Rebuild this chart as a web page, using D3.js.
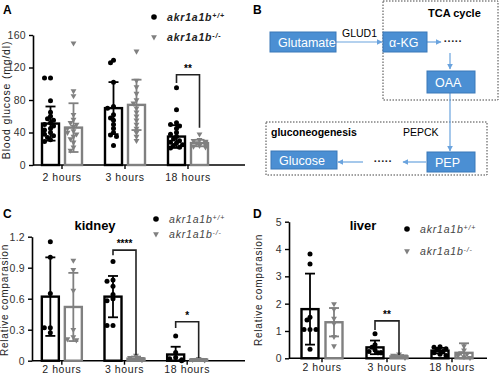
<!DOCTYPE html>
<html>
<head>
<meta charset="utf-8">
<script src="https://cdn.jsdelivr.net/npm/d3@7"></script>
<style>
  body { margin: 0; background: #fff; }
  svg text { font-family: "Liberation Sans", Arial, sans-serif; }
</style>
</head>
<body>
<svg id="fig" width="500" height="375"></svg>
<script>
// categories
var groups = ["2 hours", "3 hours", "18 hours"]

// Panel A - blood glucose (mg/dl)
var glucoseTicks = [0, 40, 80, 120, 160]
var glucoseMeanWT = [51, 70, 35]
var glucoseSdWT = [21, 32, 14]
var glucoseMeanKO = [46, 74, 27]
var glucoseSdKO = [30, 31, 4]
var glucoseWT = [
  [107, 107, 79, 65, 60, 57, 55, 52, 50, 48, 45, 43, 40, 38, 36, 34, 31, 29],
  [129, 126, 102, 72, 70, 62, 58, 55, 50, 45, 40, 37, 35, 24],
  [95, 68, 52, 50, 48, 45, 40, 38, 35, 32, 30, 28, 27, 25, 24, 22, 21]
]
var glucoseKO = [
  [150, 91, 85, 62, 56, 52, 50, 47, 45, 42, 40, 38, 35, 32, 28, 22, 18],
  [140, 104, 96, 88, 80, 76, 70, 65, 60, 55, 50, 45, 40, 35, 30],
  [38, 31, 30, 29, 28, 27, 26, 25, 24, 23, 22]
]

// Panel C - kidney relative comparasion
var kidneyTicks = [0, 0.3, 0.6, 0.9, 1.2]
var kidneyMeanWT = [0.62, 0.62, 0.06]
var kidneySdWT = [0.38, 0.2, 0.075]
var kidneyMeanKO = [0.52, 0.02, 0.01]
var kidneySdKO = [0.33, 0.02, 0.008]
var kidneyWT = [
  [1.15, 1.0, 0.65, 0.32, 0.32, 0.27],
  [0.96, 0.78, 0.77, 0.72, 0.64, 0.6, 0.58, 0.34, 0.34],
  [0.24, 0.08, 0.03, 0.02, 0.01, 0.0]
]
var kidneyKO = [
  [0.97, 0.88, 0.68, 0.3, 0.23, 0.21, 0.2],
  [0.05, 0.03, 0.02, 0.02, 0.01, 0.01],
  [0.02, 0.01, 0.01, 0.005]
]

// Panel D - liver relative comparasion
var liverTicks = [0, 1, 2, 3, 4, 5]
var liverMeanWT = [1.8, 0.4, 0.28]
var liverSdWT = [1.3, 0.25, 0.1]
var liverMeanKO = [1.32, 0.07, 0.2]
var liverSdKO = [0.52, 0.05, 0.35]
var liverWT = [
  [3.82, 3.45, 1.5, 1.4, 1.05, 1.05, 1.05, 0.33],
  [0.9, 0.5, 0.4, 0.3, 0.25, 0.2, 0.2, 0.2],
  [0.42, 0.4, 0.35, 0.3, 0.25, 0.2, 0.15, 0.1]
]
var liverKO = [
  [1.99, 1.8, 1.46, 1.28, 0.79, 0.45],
  [0.15, 0.1, 0.08, 0.05, 0.05, 0.03],
  [0.45, 0.3, 0.2, 0.15, 0.1, 0.05, 0.02]
]

// significance brackets: [group, top, left foot, right foot, label]
var glucoseSig = [[2, 111, 101, 46, "**"]]
var kidneySig = [[1, 1.07, 1.02, 0.055, "****"], [2, 0.377, 0.316, 0.026, "*"]]
var liverSig = [[1, 1.37, 1.04, 0.12, "**"]]

var WT = "#000", KO = "#808080"
var svg = d3.select("#fig")

// simple swarm, kept inside the bar
function swarm(vals, y, r) {
  var placed = []
  return vals.map(function(v) {
    var cy = y(v)
    var tries = [0, -1, 1, -2, 2]
    for (var k = 0; k < tries.length; k++) {
      var cx = tries[k] * 3
      var hit = placed.some(p => Math.hypot(p[0] - cx, p[1] - cy) < r * 1.5)
      if (!hit || k == tries.length - 1) { placed.push([cx, cy]); return [cx, cy] }
    }
  })
}

function drawPanel(o) {
  var g = svg.append("g")
  var x = d3.scaleBand().domain(groups).range(o.xr).padding(0)
  var y = d3.scaleLinear().domain([0, d3.max(o.ticks)]).range(o.yr)
  var bw = 17

  // y axis
  var ya = g.append("g").attr("transform", `translate(${o.ax},0)`)
    .call(d3.axisLeft(y).tickValues(o.ticks).tickSize(4).tickSizeOuter(0).tickFormat(o.fmt))
  ya.select(".domain").attr("stroke-width", 1.6)
  ya.selectAll(".tick line").attr("stroke-width", 1.4)
  ya.selectAll("text").attr("font-size", 10.5).attr("fill", "#333").style("letter-spacing", "0.3px")

  // x axis
  var xa = g.append("g").attr("transform", `translate(0,${o.yr[0]})`)
    .call(d3.axisBottom(x).tickSize(4).tickSizeOuter(0))
  xa.select(".domain").remove()
  xa.selectAll(".tick line").attr("stroke-width", 1.4)
  xa.selectAll("text").attr("font-size", 10.5).attr("fill", "#222")
    .attr("y", o.xlab).attr("dy", "0").style("letter-spacing", "0.6px")
  g.append("line").attr("x1", o.ax).attr("x2", o.axEnd)
    .attr("y1", o.yr[0]).attr("y2", o.yr[0]).attr("stroke", "#000").attr("stroke-width", 1.6)

  // y label
  g.append("text").attr("transform", `translate(${o.labX},${o.labY}) rotate(-90)`)
    .attr("text-anchor", "middle").attr("font-size", o.labSize).attr("fill", "#222")
    .style("letter-spacing", "0.8px").text(o.label)

  var series = [
    { mean: o.meanWT, sd: o.sdWT, pts: o.wt, col: WT, off: -o.off, shape: "dot" },
    { mean: o.meanKO, sd: o.sdKO, pts: o.ko, col: KO, off: o.off, shape: "tri" }
  ]
  series.forEach(function(s) {
    groups.forEach(function(gr, i) {
      var cx = x(gr) + x.bandwidth() / 2 + s.off
      // bar
      g.append("rect").attr("x", cx - bw / 2).attr("width", bw)
        .attr("y", y(s.mean[i])).attr("height", y(0) - y(s.mean[i]))
        .attr("fill", "none").attr("stroke", s.col).attr("stroke-width", 2.4)
      // error bar
      var hi = y(s.mean[i] + s.sd[i]), lo = y(Math.max(0, s.mean[i] - s.sd[i]))
      g.append("line").attr("x1", cx).attr("x2", cx).attr("y1", hi).attr("y2", lo)
        .attr("stroke", s.col).attr("stroke-width", 1.8)
      ;[hi, lo].forEach(function(yy) {
        g.append("line").attr("x1", cx - 5).attr("x2", cx + 5).attr("y1", yy).attr("y2", yy)
          .attr("stroke", s.col).attr("stroke-width", 1.8)
      })
      // points
      var pos = swarm(s.pts[i], y, 2.5)
      pos.forEach(function(p) {
        if (s.shape == "dot") {
          g.append("circle").attr("cx", cx + p[0]).attr("cy", p[1]).attr("r", 2.5).attr("fill", s.col)
        } else {
          g.append("path").attr("transform", `translate(${cx + p[0]},${p[1]}) rotate(180)`)
            .attr("d", d3.symbol(d3.symbolTriangle, 15)()).attr("fill", s.col)
        }
      })
    })
  })

  // significance brackets
  o.sig.forEach(function(b) {
    var cx = x(groups[b[0]]) + x.bandwidth() / 2
    var x1 = cx - o.off, x2 = cx + o.off
    g.append("path")
      .attr("d", `M${x1},${y(b[2])}V${y(b[1])}H${x2}V${y(b[3])}`)
      .attr("fill", "none").attr("stroke", "#222").attr("stroke-width", 1.6)
    g.append("text").attr("x", cx).attr("y", y(b[1]) - 3).attr("text-anchor", "middle")
      .attr("font-size", 10).attr("font-weight", "bold").text(b[4])
  })

  // title
  if (o.title) {
    g.append("text").attr("x", o.title[1]).attr("y", o.title[2]).attr("text-anchor", "middle")
      .attr("font-size", 13).attr("font-weight", "bold").text(o.title[0])
  }

  // legend
  var lg = g.append("g").attr("transform", `translate(${o.leg[0]},${o.leg[1]})`)
  lg.append("circle").attr("cx", 0).attr("cy", 0).attr("r", 2.8).attr("fill", WT)
  lg.append("path").attr("transform", `translate(0,${o.leg[2]}) rotate(180)`)
    .attr("d", d3.symbol(d3.symbolTriangle, 15)()).attr("fill", KO)
  ;[["+/+", 0], ["-/-", o.leg[2]]].forEach(function(l) {
    var t = lg.append("text").attr("x", 13).attr("y", l[1] + 4).attr("font-size", 10.5)
      .attr("font-style", "italic").attr("font-weight", o.legBold ? "bold" : "normal")
      .attr("fill", o.legBold ? "#222" : "#444").style("letter-spacing", "0.8px")
    t.append("tspan").text("akr1a1b")
    t.append("tspan").attr("baseline-shift", "super").attr("font-size", 7).text(l[0])
  })
}

drawPanel({
  xr: [30.5, 219.5], yr: [165, 35], ax: 33, axEnd: 245, ticks: glucoseTicks, fmt: d3.format("d"),
  off: 11.5, xlab: 16,
  meanWT: glucoseMeanWT, sdWT: glucoseSdWT, wt: glucoseWT,
  meanKO: glucoseMeanKO, sdKO: glucoseSdKO, ko: glucoseKO,
  label: "Blood glucose (mg/dl)", labX: 10, labY: 100, labSize: 10.5,
  sig: glucoseSig, leg: [154, 17, 20], legBold: true
})
drawPanel({
  xr: [30.5, 218.5], yr: [360.7, 236.7], ax: 32, axEnd: 245, ticks: kidneyTicks,
  fmt: d => d === 0 ? "0" : d3.format(".1f")(d),
  off: 11.5, xlab: 12,
  meanWT: kidneyMeanWT, sdWT: kidneySdWT, wt: kidneyWT,
  meanKO: kidneyMeanKO, sdKO: kidneySdKO, ko: kidneyKO,
  label: "Relative comparasion", labX: 8, labY: 300, labSize: 10,
  sig: kidneySig, title: ["kidney", 95, 230], leg: [156, 219, 15], legBold: false
})
drawPanel({
  xr: [289.5, 484.5], yr: [358.3, 221.7], ax: 289, axEnd: 487, ticks: liverTicks, fmt: d3.format("d"),
  off: 12, xlab: 13,
  meanWT: liverMeanWT, sdWT: liverSdWT, wt: liverWT,
  meanKO: liverMeanKO, sdKO: liverSdKO, ko: liverKO,
  label: "Relative comparasion", labX: 262, labY: 290, labSize: 10,
  sig: liverSig, title: ["liver", 363, 230], leg: [407, 229, 22], legBold: false
})

// panel letters
;[["A", 3, 14], ["B", 253, 14], ["C", 3, 218], ["D", 253, 218]].forEach(function(l) {
  svg.append("text").attr("x", l[1]).attr("y", l[2]).attr("font-size", 12)
    .attr("font-weight", "bold").text(l[0])
})

// Panel B - pathway diagram
var boxes = [
  ["Glutamate", 270, 32, 66, 20],
  ["\u03b1-KG", 383, 32, 44, 20],
  ["OAA", 427, 71, 48, 22],
  ["Glucose", 271, 151, 66, 18],
  ["PEP", 427, 152, 48, 20]
]
var blue = "#4b8fd3", arrowCol = "#6aa3de"
var b = svg.append("g")
var defs = svg.append("defs")
defs.append("marker").attr("id", "ah").attr("viewBox", "0 0 10 10").attr("refX", 9).attr("refY", 5)
  .attr("markerWidth", 5).attr("markerHeight", 5).attr("orient", "auto")
  .append("path").attr("d", "M0,0L10,5L0,10z").attr("fill", arrowCol)

// dashed group boxes
b.append("rect").attr("x", 383).attr("y", 1).attr("width", 115).attr("height", 99)
  .attr("fill", "none").attr("stroke", "#444").attr("stroke-width", 1).attr("stroke-dasharray", "1.5,1.5")
b.append("rect").attr("x", 266).attr("y", 122).attr("width", 221).attr("height", 53)
  .attr("fill", "none").attr("stroke", "#444").attr("stroke-width", 1).attr("stroke-dasharray", "1.5,1.5")
b.append("text").attr("x", 428).attr("y", 17).attr("font-size", 11).attr("font-weight", "bold").text("TCA cycle")
b.append("text").attr("x", 271).attr("y", 136).attr("font-size", 10.5).attr("font-weight", "bold").text("gluconeogenesis")
b.append("text").attr("x", 342).attr("y", 37).attr("font-size", 10.5).text("GLUD1")
b.append("text").attr("x", 403).attr("y", 136).attr("font-size", 10.5).text("PEPCK")

var arrows = [
  [336, 42, 382, 42],
  [427, 42, 441, 42],
  [450, 53, 450, 69],
  [450, 93, 450, 151],
  [426, 162, 403, 162],
  [363, 162, 338, 162]
]
arrows.forEach(function(a) {
  b.append("line").attr("x1", a[0]).attr("y1", a[1]).attr("x2", a[2]).attr("y2", a[3])
    .attr("stroke", arrowCol).attr("stroke-width", 1.2).attr("marker-end", "url(#ah)")
})
;[[453, 45], [383, 165]].forEach(function(d) {
  b.append("text").attr("x", d[0]).attr("y", d[1]).attr("text-anchor", "middle")
    .attr("font-size", 11).attr("font-weight", "bold").attr("fill", "#222").text("\u00b7\u00b7\u00b7\u00b7\u00b7")
})
boxes.forEach(function(bx) {
  b.append("rect").attr("x", bx[1]).attr("y", bx[2]).attr("width", bx[3]).attr("height", bx[4])
    .attr("fill", blue).attr("stroke", "#3b78b8").attr("stroke-width", 1)
  b.append("text").attr("x", bx[1] + (bx[0] == "\u03b1-KG" ? 6 : 8))
    .attr("y", bx[2] + bx[4] / 2 + 4.5).attr("font-size", 12.5).attr("fill", "#fff").text(bx[0])
})
</script>
</body>
</html>
